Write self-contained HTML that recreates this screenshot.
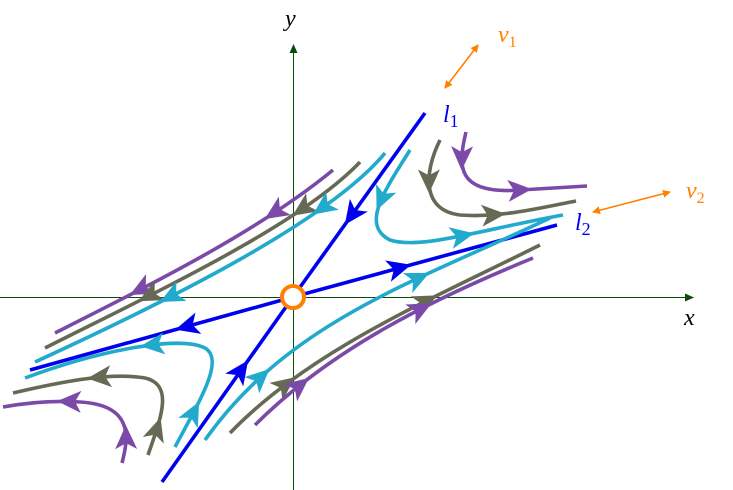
<!DOCTYPE html>
<html><head><meta charset="utf-8"><style>
html,body{margin:0;padding:0;background:#fff}
svg{display:block}
text{font-family:"Liberation Serif",serif;font-style:italic}
</style></head><body>
<svg id="s" width="733" height="490" viewBox="0 0 733 490">
<defs>
<marker id="ag" markerWidth="9" markerHeight="8" refX="8" refY="4" orient="auto" markerUnits="userSpaceOnUse"><path d="M0,0 L9,4 L0,8 Z" fill="#0a4a0a"/></marker>
<marker id="ao" markerWidth="8" markerHeight="8" refX="7" refY="4" orient="auto-start-reverse" markerUnits="userSpaceOnUse"><path d="M0,0 L8,4 L0,8 Z" fill="#ff8000"/></marker>
</defs>
<line x1="0" y1="297.5" x2="693" y2="297.5" stroke="#0a4a0a" stroke-width="1" marker-end="url(#ag)"/>
<line x1="293.5" y1="490" x2="293.5" y2="45" stroke="#0a4a0a" stroke-width="1" marker-end="url(#ag)"/>
<text x="684" y="325" font-size="24">x</text>
<text x="285" y="26" font-size="24">y</text>
<g id="curves" fill="none" stroke-width="3.6" stroke-linecap="butt"></g>
<line x1="445" y1="88" x2="478" y2="45" stroke="#ff8000" stroke-width="1.6" marker-start="url(#ao)" marker-end="url(#ao)"/>
<line x1="593" y1="212" x2="670" y2="192" stroke="#ff8000" stroke-width="1.6" marker-start="url(#ao)" marker-end="url(#ao)"/>
<text x="498" y="42" font-size="24" fill="#ff8000">v<tspan font-size="16" dy="5" font-style="normal">1</tspan></text>
<text x="686" y="198" font-size="24" fill="#ff8000">v<tspan font-size="16" dy="5" font-style="normal">2</tspan></text>
<text x="443" y="122" font-size="24" fill="#0000ee">l<tspan font-size="18" dy="5" font-style="normal">1</tspan></text>
<text x="575" y="230" font-size="24" fill="#0000ee">l<tspan font-size="18" dy="5" font-style="normal">2</tspan></text>
<circle cx="293" cy="297" r="11" fill="#fff" stroke="#ff8000" stroke-width="4"/>
</svg>
<script>
const P='#7b4aa8',G='#666a55',C='#22aacc',B='#0000ee';
const curves=[
 [B,'M425,113 L293,297',[0.55]],
 [B,'M162,482 L293,297',[0.6]],
 [B,'M293,297 L30,370',[0.4]],
 [B,'M293,297 L557,225',[0.4]],
 [P,'M333,170 C260,230 160,280 55,333',[0.22,0.7]],
 [G,'M360,162 C300,225 160,290 45,348',[0.2,0.68]],
 [C,'M385,153 C330,220 170,300 35,362',[0.2,0.63]],
 [C,'M205,440 C290,320 420,280 550,218',[0.2,0.65]],
 [G,'M230,433 C310,350 430,300 540,245',[0.2,0.65]],
 [P,'M255,425 C330,350 430,300 533,258',[0.18,0.62]],
 [C,'M175,447 C200,400 225,360 205,348 C180,335 100,350 25,378',[0.13,0.55]],
 [G,'M148,455 C160,420 175,385 145,378 C110,372 60,382 13,393',[0.12,0.6]],
 [P,'M122,463 C128,440 135,405 80,402 C50,400 25,403 3,407',[0.15,0.6]],
 [C,'M410,150 C385,190 360,225 390,240 C420,250 480,230 563,215',[0.2,0.63]],
 [G,'M440,140 C425,170 420,210 460,215 C500,218 540,208 576,201',[0.2,0.6]],
 [P,'M466,132 C458,165 455,195 520,190 C550,188 570,187 587,186',[0.15,0.6]]
];
const g=document.getElementById('curves'),NS='http://www.w3.org/2000/svg';
curves.forEach((c,i)=>{
 const p=document.createElementNS(NS,'path');
 p.setAttribute('d',c[1]);p.setAttribute('stroke',c[0]);
 
 
 g.appendChild(p);
 const L=p.getTotalLength();
 c[2].forEach(f=>{
  const a=p.getPointAtLength(L*f),b=p.getPointAtLength(Math.min(L,L*f+1));
  const ang=Math.atan2(b.y-a.y,b.x-a.x)*180/Math.PI;
  const t=document.createElementNS(NS,'path');
  t.setAttribute('d','M13,0 L-11,-11 L-5,0 L-11,11 Z');
  t.setAttribute('fill',c[0]);
  t.setAttribute('transform','translate('+a.x+','+a.y+') rotate('+ang+')');
  
  
  g.appendChild(t);
 });
});
</script>
</body></html>
